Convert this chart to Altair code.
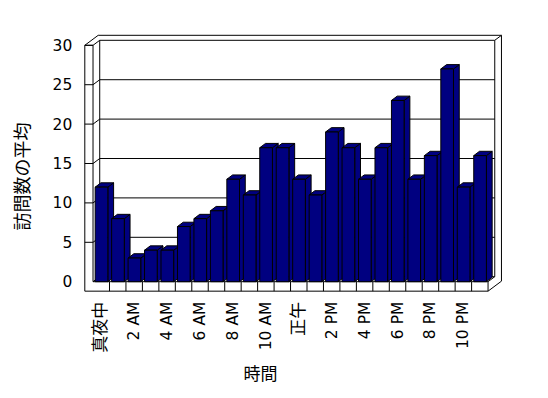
import altair as alt
import pandas as pd

# ---- data ----
hours = list(range(24))
visits = [12, 8, 3, 4, 4, 7, 8, 9, 13, 11, 17, 17, 13, 11, 19, 17, 13, 17, 23, 13, 16, 27, 12, 16]
tick_labels = ["真夜中", "2 AM", "4 AM", "6 AM", "8 AM", "10 AM", "正午",
               "2 PM", "4 PM", "6 PM", "8 PM", "10 PM"]
y_ticks = [0, 5, 10, 15, 20, 25, 30]
x_title = "時間"
y_title = "訪問数の平均"

# ---- 3D geometry (in data units) ----
N = len(hours)
TOP = 30
FB = -1.2          # floor slab bottom
LW = -0.5          # left wall outer face
DX, DY = 0.407, 0.635   # depth of the plot box
BA, BW = 0.13, 0.77     # bar offset / width inside a cell
BDX, BDY = 0.35, 0.55   # bar depth
PXU, PXV = 16.46, 7.88  # pixels per unit
LEFT_PX, TOP_PX = 84.8, 35.3

XMIN, XMAX = LW, N + 2 * DX
YMIN, YMAX = FB, TOP + 2 * DY
W = (XMAX - XMIN) * PXU
H = (YMAX - YMIN) * PXV

NAVY = "#000080"
FONT = "DejaVu Sans"
JFONT = "Noto Sans CJK JP"

# bars
front = pd.DataFrame({
    "hour": hours,
    "x0": [h + BA for h in hours],
    "x1": [h + BA + BW for h in hours],
    "y0": [0] * N,
    "y1": visits,
})
top_rows, side_rows = [], []
for h, v in zip(hours, visits):
    x0, x1 = h + BA, h + BA + BW
    top_rows += [dict(bar=h, y=v, xl=x0, xr=x1),
                 dict(bar=h, y=v + BDY, xl=x0 + BDX, xr=x1 + BDX)]
    side_rows += [dict(bar=h, x=x1, yb=0, yt=v),
                  dict(bar=h, x=x1 + BDX, yb=BDY, yt=v + BDY)]
top_df = pd.DataFrame(top_rows)
side_df = pd.DataFrame(side_rows)

# frame (walls / floor / gridlines)
segs = [
    (LW, FB, LW, TOP), (LW, TOP, 0, TOP), (0, 0, 0, TOP),
    (LW, FB, N, FB), (0, 0, N, 0), (N, FB, N, 0),
    (LW, TOP, LW + 2 * DX, TOP + 2 * DY),
    (LW + 2 * DX, TOP + 2 * DY, N + 2 * DX, TOP + 2 * DY),
    (DX, DY, DX, TOP + DY), (N + DX, DY, N + DX, TOP + DY),
    (N + DX, TOP + DY, N + 2 * DX, TOP + 2 * DY),
    (N + 2 * DX, FB + 2 * DY, N + 2 * DX, TOP + 2 * DY),
    (N, 0, N + DX, DY), (N, FB, N + 2 * DX, FB + 2 * DY),
]
for t in y_ticks:
    if t != 0:
        segs.append((LW, t, 0, t))
    segs.append((0, t, DX, t + DY))
    segs.append((DX, t + DY, N + DX, t + DY))
for i in range(1, N):
    segs.append((i, FB, i, 0))
frame = pd.DataFrame(segs, columns=["x", "y", "x2", "y2"])

# x tick labels (every second hour, centred in its cell)
lbl_df = pd.DataFrame({
    "pos": [h + 0.5 for h in hours if h % 2 == 0],
    "label": tick_labels,
})
lbl_df["cjk"] = [any(ord(c) > 127 for c in s) for s in lbl_df["label"]]

xs = alt.Scale(domain=[XMIN, XMAX], nice=False, zero=False)
ys = alt.Scale(domain=[YMIN, YMAX], nice=False, zero=False)

X_AX = alt.Axis(
    labels=False, domain=False, ticks=False, grid=False,
    title=x_title, titleFont=JFONT, titleFontSize=17, titleFontWeight="normal",
    titleColor="black", titleX=260 - LEFT_PX, titleY=375 - (TOP_PX + H),
    titleAlign="center", titleBaseline="middle", titleAngle=0,
)
Y_AX = alt.Axis(
    values=y_ticks, labelPadding=13, labelFont=FONT, labelFontSize=15.5, labelColor="black",
    labelBaseline="middle", labelAlign="right",
    domain=False, ticks=False, grid=False,
    title=y_title, titleFont=JFONT, titleFontSize=18, titleFontWeight="normal",
    titleColor="black", titleX=24 - LEFT_PX, titleY=176 - TOP_PX,
    titleAngle=-90, titleAlign="center", titleBaseline="middle",
)

frame_layer = alt.Chart(frame).mark_rule(color="black", strokeWidth=1).encode(
    x=alt.X("x:Q", scale=xs, axis=X_AX),
    y=alt.Y("y:Q", scale=ys, axis=Y_AX),
    x2="x2:Q", y2="y2:Q",
)
side_layer = alt.Chart(side_df).mark_area(
    orient="vertical", fill=NAVY, stroke="black", strokeWidth=1, opacity=1
).encode(
    x=alt.X("x:Q", scale=xs, axis=X_AX),
    y=alt.Y("yb:Q", scale=ys, axis=Y_AX, stack=False),
    y2="yt:Q",
    detail="bar:N",
)
top_layer = alt.Chart(top_df).mark_area(
    orient="horizontal", fill=NAVY, stroke="black", strokeWidth=1, opacity=1
).encode(
    y=alt.Y("y:Q", scale=ys, axis=Y_AX),
    x=alt.X("xl:Q", scale=xs, axis=X_AX, stack=False),
    x2="xr:Q",
    detail="bar:N",
)
front_layer = alt.Chart(front).mark_rect(fill=NAVY, stroke="black", strokeWidth=1).encode(
    x=alt.X("x0:Q", scale=xs, axis=X_AX),
    x2="x1:Q",
    y=alt.Y("y0:Q", scale=ys, axis=Y_AX),
    y2="y1:Q",
)

lbl_base = alt.Chart(lbl_df).encode(
    x=alt.X("pos:Q", scale=xs, axis=X_AX),
    y=alt.value(H + 10.5),
    text="label:N",
)
lbl_latin = lbl_base.transform_filter("!datum.cjk").mark_text(
    angle=270, align="right", baseline="middle", font=FONT, fontSize=15.5, color="black"
)
lbl_cjk = lbl_base.transform_filter("datum.cjk").mark_text(
    angle=270, align="right", baseline="middle", font=JFONT, fontSize=17, color="black"
)

chart = alt.layer(frame_layer, side_layer, top_layer, front_layer, lbl_latin, lbl_cjk).properties(
    width=W, height=H,
    autosize=alt.AutoSizeParams(type="none"),
    padding={"left": LEFT_PX - 8, "top": TOP_PX - 8, "right": 20, "bottom": 100},
    background="white",
).configure_view(stroke=None)

chart.save("out.html", embed_options={"renderer": "svg", "actions": False})
